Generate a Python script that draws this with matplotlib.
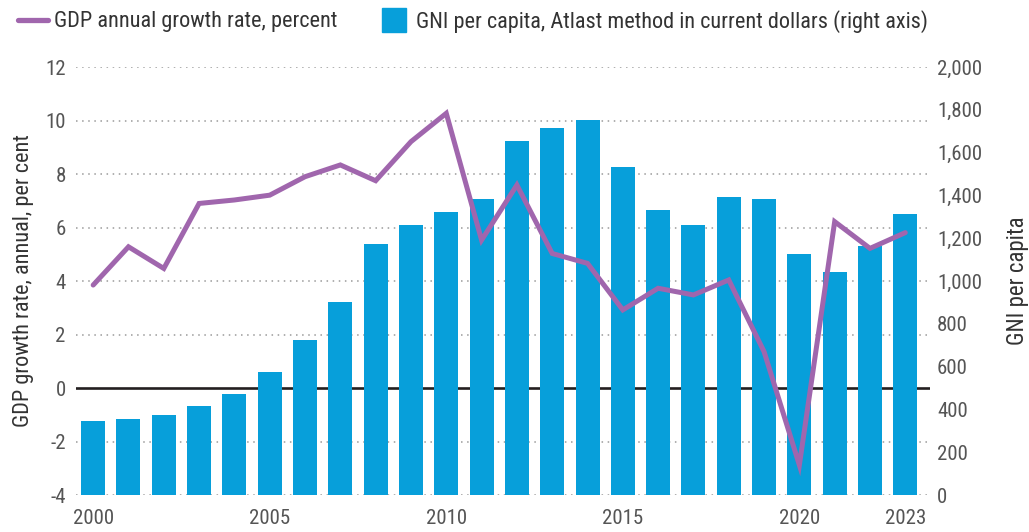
import numpy as np
import matplotlib
matplotlib.use("Agg")
import matplotlib.pyplot as plt
from matplotlib.lines import Line2D

plt.rcParams['font.family'] = ['Roboto Condensed', 'Archivo Narrow', 'DejaVu Sans']

# data
years = list(range(2000, 2024))
gni_per_capita = [346, 355, 374, 416, 472, 575, 724, 902, 1173, 1262, 1322, 1383,
                  1654, 1715, 1752, 1533, 1332, 1262, 1393, 1385, 1128, 1043, 1163, 1313]
gdp_growth = [3.85, 5.28, 4.47, 6.90, 7.03, 7.21, 7.90, 8.34, 7.75, 9.21, 10.27, 5.53,
              7.59, 5.03, 4.66, 2.92, 3.73, 3.48, 4.04, 1.36, -2.88, 6.22, 5.22, 5.81]
xtick_years = [2000, 2005, 2010, 2015, 2020, 2023]
left_ticks = list(range(-4, 13, 2))
right_ticks = list(range(0, 2001, 200))

bar_color = '#079fda'
line_color = '#a066ad'
text_color = '#333333'
tick_color = '#555555'

fig = plt.figure(figsize=(10.29, 5.32), dpi=100)
ax = fig.add_axes([0.0734, 0.0695, 0.9038 - 0.0734, 0.874 - 0.0695])
ax2 = ax.twinx()

# grid + zero line on the left axis (drawn underneath the bars)
for v in left_ticks:
    if v == 0:
        continue
    ax.axhline(v, color='#9a9a9a', lw=1.1, linestyle=(0, (1, 3)), zorder=0)
ax.axhline(0, color='#231f20', lw=1.9, zorder=1)

# bars on right axis
ax2.bar(years, gni_per_capita, width=0.68, color=bar_color, zorder=2)
# growth line drawn in ax2 so it sits above the bars, using left-axis coordinates
ax2.plot(years, gdp_growth, color=line_color, lw=3.6, zorder=3,
         transform=ax.transData, solid_joinstyle='miter', solid_capstyle='round')

ax.set_xlim(1999.5, 2023.7)
ax.set_ylim(-4, 12)
ax2.set_ylim(0, 2000)

ax.set_yticks(left_ticks)
ax.set_yticklabels([str(v) for v in left_ticks])
ax2.set_yticks(right_ticks)
ax2.set_yticklabels([f"{v:,}" for v in right_ticks])
ax.set_xticks(xtick_years)
ax.set_xticklabels([str(y) for y in xtick_years])

for a in (ax, ax2):
    for s in a.spines.values():
        s.set_visible(False)
ax.tick_params(axis='y', length=0, pad=7, labelsize=15, labelcolor=tick_color)
ax.tick_params(axis='x', length=0, pad=10, labelsize=15, labelcolor=tick_color)
ax2.tick_params(axis='y', length=0, pad=5, labelsize=15, labelcolor=tick_color)

ax.set_ylabel('GDP growth rate, annual, per cent', fontsize=16, color=text_color, labelpad=8)
ax2.set_ylabel('GNI per capita', fontsize=16.5, color=text_color, labelpad=17)

handles = [Line2D([], [], color=line_color, lw=3.8, solid_capstyle='round'),
           Line2D([], [], marker='s', markersize=17, linestyle='none', color=bar_color)]
labels = ['GDP annual growth rate, percent',
          'GNI per capita, Atlast method in current dollars (right axis)']
fig.legend(handles, labels, loc='upper left', bbox_to_anchor=(0.0175, 0.982), ncol=2,
           frameon=False, fontsize=16, handlelength=1.33, handletextpad=0.31,
           columnspacing=1.86, borderpad=0, borderaxespad=0, labelcolor=text_color)

fig.savefig('out.png', dpi=100)
